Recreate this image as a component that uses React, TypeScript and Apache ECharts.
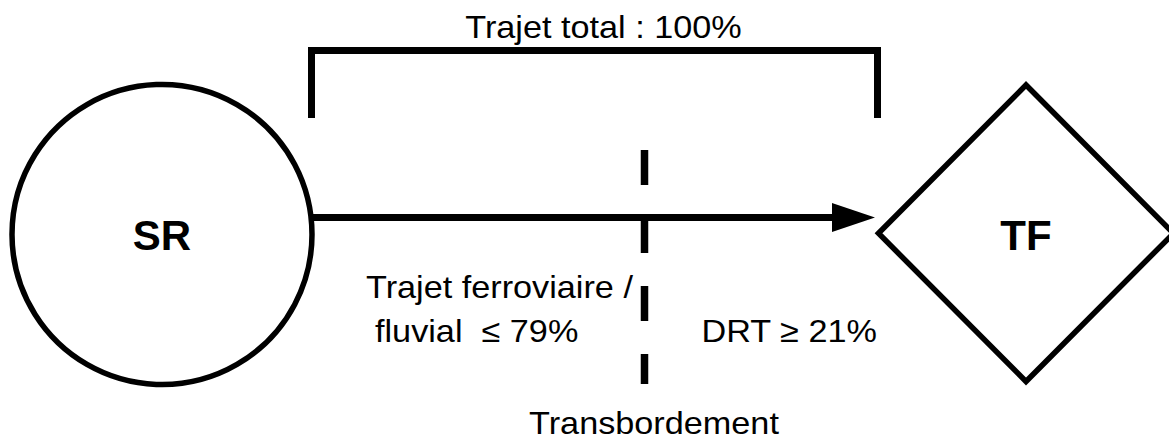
import React, { useEffect, useRef } from "react";
import * as echarts from "echarts";

// ---- Diagram content ----
const nodeLabels = ["SR", "TF"];
const shareLabels = ["Trajet total", "Trajet ferroviaire /", "fluvial", "DRT"];
const shareValues = [100, 79, 21]; // total, rail/river max, DRT min
const transferLabel = "Transbordement";

const FONT = "'Liberation Sans', Arial, Helvetica, sans-serif";
const SX = 1.07;

function txt(text: string, x: number, y: number, opts: any = {}) {
  const size = opts.size ?? 32;
  const weight = opts.weight ?? "normal";
  const align = opts.align ?? "left";
  return {
    type: "text",
    x,
    y,
    scaleX: opts.scaleX ?? SX,
    silent: true,
    z: 10,
    style: {
      text,
      x: 0,
      y: 0,
      fill: "#000",
      font: `${weight} ${size}px ${FONT}`,
      align,
      textAlign: align,
      verticalAlign: "middle",
      textVerticalAlign: "middle",
    },
  };
}

export default function App() {
  const ref = useRef<HTMLDivElement>(null);

  useEffect(() => {
    if (!ref.current) return;
    const chart = echarts.init(ref.current, undefined, { renderer: "svg" });
    const stroke = "#000";
    const option: any = {
      animation: false,
      backgroundColor: "#fff",
      graphic: [
        // top bracket
        {
          type: "polyline",
          shape: {
            points: [
              [311.5, 118],
              [311.5, 50.5],
              [877.5, 50.5],
              [877.5, 118],
            ],
          },
          style: { stroke, lineWidth: 7, fill: "none", lineJoin: "miter" },
        },
        // transfer dashed line
        {
          type: "line",
          shape: { x1: 644.5, y1: 150, x2: 644.5, y2: 384 },
          style: { stroke, lineWidth: 7.5, lineDash: [35, 33] },
        },
        // SR circle
        {
          type: "circle",
          shape: { cx: 162, cy: 234.5, r: 150 },
          style: { fill: "#fff", stroke, lineWidth: 5.5 },
        },
        // TF diamond
        {
          type: "polygon",
          shape: {
            points: [
              [878.5, 233.3],
              [1026, 85],
              [1173.5, 233.3],
              [1026, 381.5],
            ],
          },
          style: { fill: "#fff", stroke, lineWidth: 5.5, lineJoin: "miter" },
        },
        // arrow shaft
        {
          type: "line",
          shape: { x1: 313, y1: 217.5, x2: 836, y2: 217.5 },
          style: { stroke, lineWidth: 7 },
        },
        // arrow head
        {
          type: "polygon",
          shape: {
            points: [
              [832, 203],
              [875, 217.5],
              [832, 232],
            ],
          },
          style: { fill: stroke },
        },
        txt(`${shareLabels[0]} : ${shareValues[0]}%`, 603.5, 26.5, { align: "center" }),
        txt(shareLabels[1], 366, 287),
        txt(`${shareLabels[2]}  \u2264 ${shareValues[1]}%`, 375, 330.5),
        txt(`${shareLabels[3]} \u2265 ${shareValues[2]}%`, 701.5, 330.5),
        txt(transferLabel, 654, 423, { align: "center" }),
        txt(nodeLabels[0], 162, 235, { size: 42, weight: "bold", align: "center", scaleX: 1 }),
        txt(nodeLabels[1], 1026, 235, { size: 42, weight: "bold", align: "center", scaleX: 1 }),
      ],
    };
    chart.setOption(option);
    return () => chart.dispose();
  }, []);

  return (
    <div
      ref={ref}
      style={{ position: "fixed", left: 0, top: 0, width: 1169, height: 441, background: "#fff" }}
    />
  );
}
